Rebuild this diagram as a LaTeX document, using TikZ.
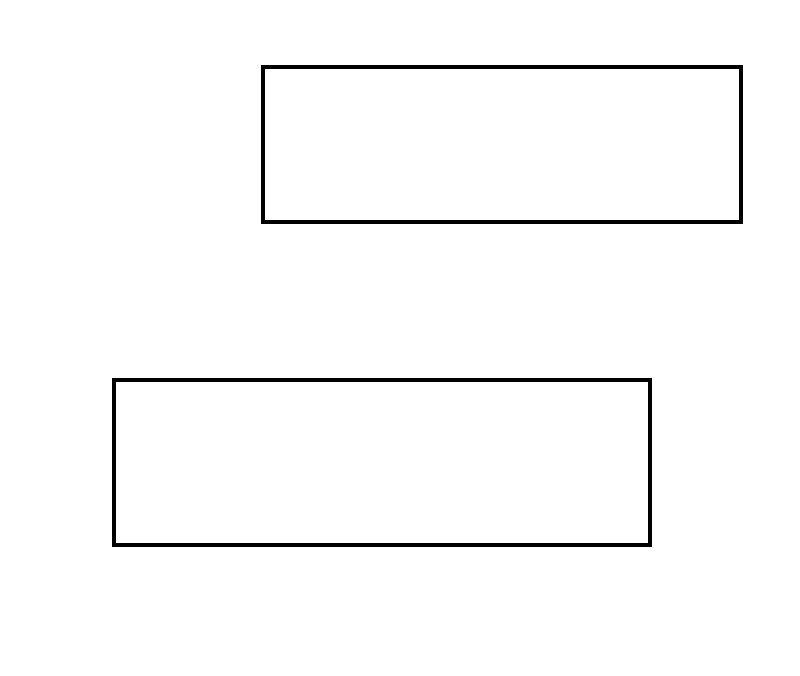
\documentclass[tikz,border=0pt]{standalone}
\usepackage{tikz}
\usetikzlibrary{positioning}

\begin{document}
\begin{tikzpicture}[
                  block/.style={draw,line width=2.8pt,inner sep=0pt,minimum width=#1},
            ]
                  % Frame
                  \useasboundingbox (0,0) rectangle (16,13.52);

                  % Boxes
                  \node[block=9.56cm,minimum height=3.10cm] (upper) at (10.04,10.63) {};
                  \node[block=10.72cm,minimum height=3.30cm] (lower) at (7.64,4.27) {};
            \end{tikzpicture}
\end{document}
